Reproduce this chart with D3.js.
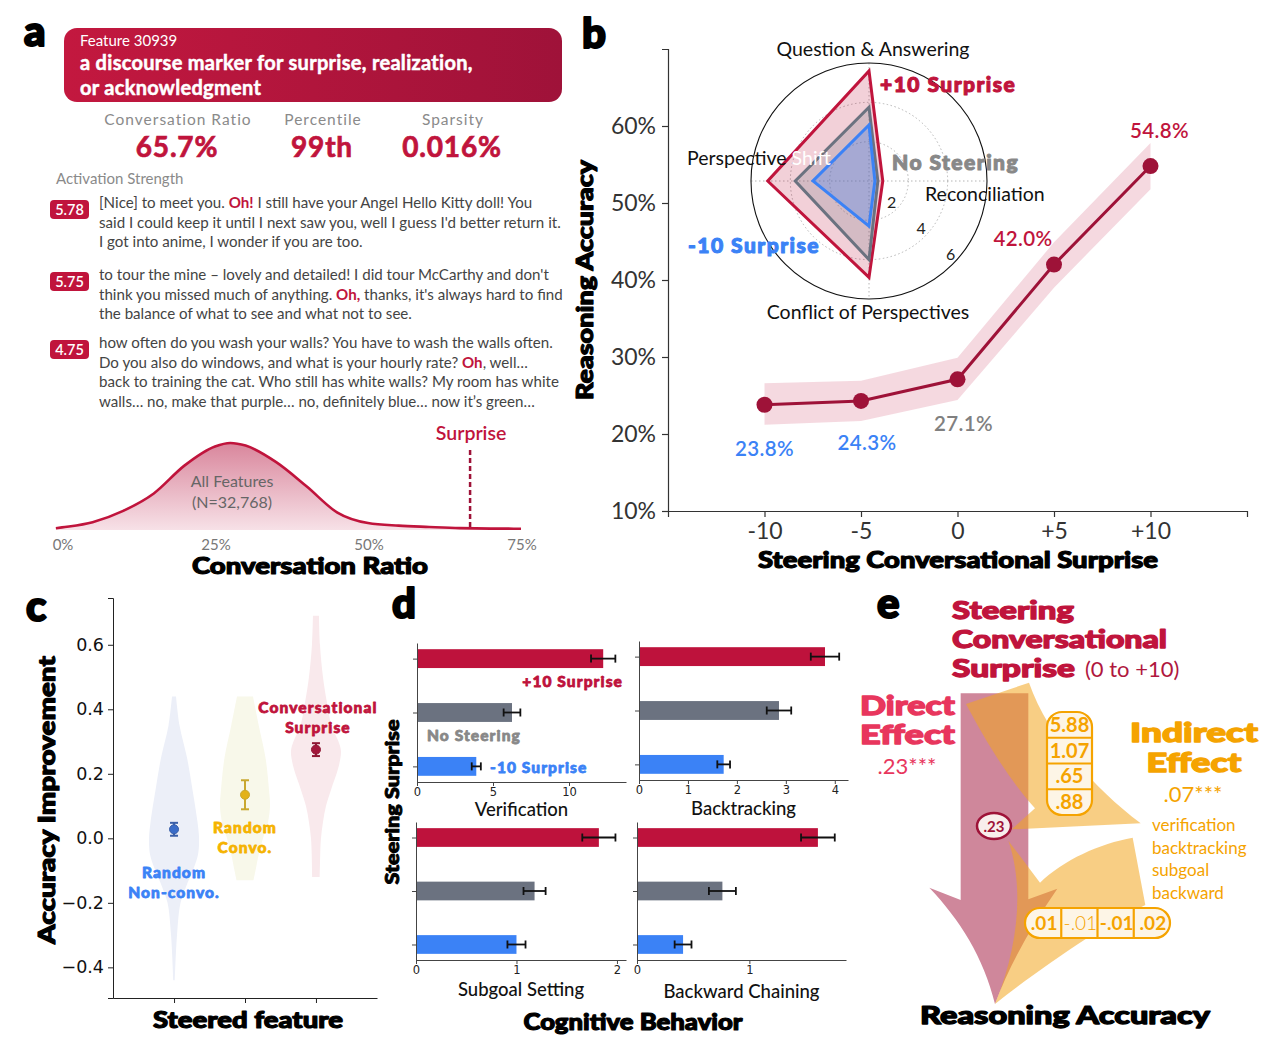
<!DOCTYPE html>
<html>
<head>
<meta charset="utf-8">
<script src="https://cdn.jsdelivr.net/npm/d3@7"></script>
<style>
  body { margin: 0; background: #fff; }
  text { font-family: Lato, "Open Sans", sans-serif; }
  .heavy { font-family: Lato, sans-serif; font-weight: 900; }
  .mpl { font-family: "DejaVu Sans", sans-serif; }
</style>
</head>
<body>
<div id="fig"></div>
<script>
// ---------- panel a data ----------
const featureId = 'Feature 30939';
const featureTitle = ['a discourse marker for surprise, realization,', 'or acknowledgment'];
const statLabels = ['Conversation Ratio', 'Percentile', 'Sparsity'];
const statValues = ['65.7%', '99th', '0.016%'];
const activations = [5.78, 5.75, 4.75];
const snippets = [
  ['[Nice] to meet you. *Oh!* I still have your Angel Hello Kitty doll! You',
   "said I could keep it until I next saw you, well I guess I'd better return it.",
   'I got into anime, I wonder if you are too.'],
  ["to tour the mine – lovely and detailed! I did tour McCarthy and don't",
   "think you missed much of anything. *Oh,* thanks, it's always hard to find",
   'the balance of what to see and what not to see.'],
  ['how often do you wash your walls? You have to wash the walls often.',
   'Do you also do windows, and what is your hourly rate? *Oh*, well…',
   'back to training the cat. Who still has white walls? My room has white',
   'walls… no, make that purple… no, definitely blue… now it’s green…']
];
const ratioPoints  = [-1, 0, 5, 10, 15, 20, 25, 27.5, 30, 35, 40, 45, 50, 55, 60, 65, 70, 75];
const ratioDensity = [0.02, 0.03, 0.09, 0.22, 0.42, 0.74, 0.96, 1.0, 0.97, 0.78, 0.5, 0.2, 0.08, 0.05, 0.035, 0.022, 0.016, 0.015];
const ratioTicks = [0, 25, 50, 75];
const surpriseRatio = 65.7;

// ---------- panel b data ----------
const steerLevels = [-10, -5, 0, 5, 10];
const accuracy = [23.8, 24.3, 27.1, 42.0, 54.8];
const accLow   = [21.2, 21.7, 24.4, 39.0, 51.8];
const accHigh  = [26.6, 26.9, 29.9, 44.9, 57.8];
const accTicks = [10, 20, 30, 40, 50, 60];
const radarAxes = ['Question & Answering', 'Reconciliation', 'Conflict of Perspectives', 'Perspective Shift'];
const radarPlus  = [5.6, 0.7, 4.9, 5.15];
const radarNone  = [3.75, 0.45, 4.0, 3.75];
const radarMinus = [2.85, 0.3, 2.3, 2.85];
const radarTicks = [2, 4, 6];

// ---------- panel c data ----------
const features = ['Random Non-convo.', 'Random Convo.', 'Conversational Surprise'];
const featMean = [0.028, 0.135, 0.275];
const featErr  = [0.02, 0.045, 0.02];
const violinBlueY = [0.44, 0.35, 0.25, 0.15, 0.05, 0, -0.05, -0.1, -0.15, -0.2, -0.3, -0.44];
const violinBlueW = [0.08, 0.22, 0.52, 0.74, 0.94, 1, 0.96, 0.75, 0.48, 0.26, 0.12, 0.03];
const violinYelY  = [0.44, 0.35, 0.25, 0.15, 0.1, 0.05, 0, -0.05, -0.1, -0.13];
const violinYelW  = [0.32, 0.55, 0.82, 0.96, 1, 0.92, 0.72, 0.55, 0.42, 0.34];
const violinRedY  = [0.69, 0.6, 0.5, 0.42, 0.35, 0.3, 0.27, 0.22, 0.15, 0.1, 0.05, 0, -0.05, -0.12];
const violinRedW  = [0.12, 0.16, 0.28, 0.44, 0.62, 0.9, 1, 0.9, 0.6, 0.4, 0.28, 0.2, 0.17, 0.15];
const impTicks = [-0.4, -0.2, 0, 0.2, 0.4, 0.6];

// ---------- panel d data ----------
const behaviors = ['Verification', 'Backtracking', 'Subgoal Setting', 'Backward Chaining'];
const steerGroups = ['+10 Surprise', 'No Steering', '-10 Surprise'];
const behPlus     = [12.25, 3.8, 1.82, 1.61];
const behPlusErr  = [0.8, 0.29, 0.165, 0.15];
const behNone     = [6.25, 2.86, 1.18, 0.76];
const behNoneErr  = [0.55, 0.25, 0.11, 0.12];
const behMinus    = [3.9, 1.73, 1.0, 0.41];
const behMinusErr = [0.3, 0.13, 0.09, 0.075];
const behTicks = [[0, 5, 10], [0, 1, 2, 3, 4], [0, 1, 2], [0, 1]];

// ---------- panel e data ----------
const pathA = ['5.88', '1.07', '.65', '.88'];
const pathB = ['.01', '-.01', '-.01', '.02'];
const directEffect = '.23***';
const indirectEffect = '.07***';
const mediators = ['verification', 'backtracking', 'subgoal', 'backward'];

const crimson = '#c0143c', darkRed = '#9e1238', blue = '#3b82f6', grey = '#6b7280', orange = '#f5a300';

const svg = d3.select('#fig').append('svg').attr('width', 1270).attr('height', 1050);
const defs = svg.append('defs');

// panel letters
[['a', 24, 46], ['b', 582, 48], ['c', 26, 621], ['d', 392, 618], ['e', 877, 618]].forEach(([t, x, y]) => {
  svg.append('text').attr('class', 'heavy').attr('x', x).attr('y', y).attr('font-size', 42).attr('fill', '#000')
    .attr('textLength', 27).text(t);
});

// ================= panel a =================
const gA = svg.append('g');
const boxGrad = defs.append('linearGradient').attr('id', 'boxGrad');
boxGrad.append('stop').attr('offset', '0%').attr('stop-color', '#c3183f');
boxGrad.append('stop').attr('offset', '100%').attr('stop-color', '#9f1239');
gA.append('rect').attr('x', 64).attr('y', 28).attr('width', 498).attr('height', 74).attr('rx', 13).attr('fill', 'url(#boxGrad)');
gA.append('text').attr('x', 80).attr('y', 46).attr('fill', '#fff').attr('font-size', 15).text(featureId);
featureTitle.forEach((t, i) => {
  gA.append('text').attr('x', 80).attr('y', 70 + i * 25).attr('fill', '#fff').attr('font-size', 20).attr('font-weight', 700)
    .attr('stroke', '#fff').attr('stroke-width', 0.5).attr('letter-spacing', 0.3).text(t);
});

const statX = [178, 323, 453];
statLabels.forEach((s, i) => {
  gA.append('text').attr('x', statX[i]).attr('y', 125).attr('text-anchor', 'middle').attr('fill', '#8a8a8a')
    .attr('font-size', 15.5).attr('letter-spacing', 1).text(s);
  gA.append('text').attr('x', statX[i] - 1).attr('y', 157).attr('text-anchor', 'middle').attr('fill', crimson)
    .attr('font-size', 28).attr('font-weight', 700).attr('letter-spacing', 0.8)
    .attr('stroke', crimson).attr('stroke-width', 0.7).text(statValues[i]);
});

gA.append('text').attr('x', 56).attr('y', 184).attr('fill', '#8a8a8a').attr('font-size', 15).text('Activation Strength');

const snippetTop = [209, 281, 349];
snippets.forEach((lines, k) => {
  const y0 = snippetTop[k];
  gA.append('rect').attr('x', 50).attr('y', y0 - 9).attr('width', 39).attr('height', 19).attr('rx', 4).attr('fill', crimson);
  gA.append('text').attr('x', 69.5).attr('y', y0 + 5.5).attr('text-anchor', 'middle').attr('fill', '#fff')
    .attr('font-size', 14.5).attr('font-weight', 600).text(activations[k].toFixed(2));
  lines.forEach((line, j) => {
    const t = gA.append('text').attr('x', 99).attr('y', y0 - 1 + j * 19.6).attr('font-size', 15.1).attr('fill', '#444');
    line.split('*').forEach((part, p) => {
      if (!part) return;
      t.append('tspan').attr('fill', p % 2 ? crimson : '#444').attr('font-weight', p % 2 ? 700 : 400).text(part);
    });
  });
});

// density curve
const xR = d3.scaleLinear().domain([0, 75]).range([62, 521]);
const yR = d3.scaleLinear().domain([0, 1]).range([530, 443]);
const denGrad = defs.append('linearGradient').attr('id', 'denGrad').attr('x1', 0).attr('x2', 0).attr('y1', 0).attr('y2', 1);
denGrad.append('stop').attr('offset', '0%').attr('stop-color', '#d9869c');
denGrad.append('stop').attr('offset', '100%').attr('stop-color', '#f7e1e7');
const den = ratioPoints.map((r, i) => [r, ratioDensity[i]]);
gA.append('path').datum(den)
  .attr('d', d3.area().x(d => xR(d[0])).y0(yR(0)).y1(d => yR(d[1])).curve(d3.curveMonotoneX))
  .attr('fill', 'url(#denGrad)');
gA.append('path').datum(den)
  .attr('d', d3.line().x(d => xR(d[0])).y(d => yR(d[1])).curve(d3.curveMonotoneX))
  .attr('fill', 'none').attr('stroke', crimson).attr('stroke-width', 2.6);
gA.append('line').attr('x1', xR(surpriseRatio) + 6).attr('x2', xR(surpriseRatio) + 6).attr('y1', 450).attr('y2', yR(0.02))
  .attr('stroke', darkRed).attr('stroke-width', 2.5).attr('stroke-dasharray', '5,3');
gA.append('text').attr('x', xR(surpriseRatio) + 7).attr('y', 440).attr('text-anchor', 'middle').attr('fill', crimson)
  .attr('font-size', 19.5).attr('font-weight', 600).text('Surprise');
gA.append('text').attr('x', 232).attr('y', 487).attr('text-anchor', 'middle').attr('fill', '#666').attr('font-size', 16).text('All Features');
gA.append('text').attr('x', 232).attr('y', 508).attr('text-anchor', 'middle').attr('fill', '#666').attr('font-size', 16).text('(N=32,768)');
ratioTicks.forEach(t => {
  gA.append('text').attr('x', xR(t) + 1).attr('y', 550).attr('text-anchor', 'middle').attr('fill', '#777').attr('font-size', 15).text(t + '%');
});
gA.append('text').attr('class', 'heavy').attr('x', 310).attr('y', 574).attr('text-anchor', 'middle').attr('font-size', 22.5)
  .attr('fill', '#000').attr('textLength', 236).attr('lengthAdjust', 'spacingAndGlyphs').text('Conversation Ratio');

// ================= panel b =================
const gB = svg.append('g');
const xS = d3.scaleLinear().domain([-15, 15]).range([668, 1247]);
const yS = d3.scaleLinear().domain([10, 70]).range([511, 49]);
gB.append('g').attr('transform', 'translate(0,511)')
  .call(d3.axisBottom(xS).tickValues(steerLevels).tickFormat(d => d > 0 ? '+' + d : String(d)).tickSize(6).tickPadding(6))
  .call(g => g.selectAll('text').attr('font-size', 23).attr('fill', '#333').attr('font-family', 'Lato'))
  .call(g => g.selectAll('line,path').attr('stroke', '#333').attr('stroke-width', 1.2));
gB.append('g').attr('transform', 'translate(668,0)')
  .call(d3.axisLeft(yS).tickValues(accTicks).tickFormat(d => d + '%').tickSize(6).tickPadding(6))
  .call(g => g.selectAll('text').attr('font-size', 23).attr('fill', '#333').attr('font-family', 'Lato'))
  .call(g => g.selectAll('line,path').attr('stroke', '#333').attr('stroke-width', 1.2));
gB.append('text').attr('class', 'heavy').attr('x', 958).attr('y', 568).attr('text-anchor', 'middle').attr('font-size', 22)
  .attr('fill', '#000').attr('textLength', 400).attr('lengthAdjust', 'spacingAndGlyphs').text('Steering Conversational Surprise');
gB.append('text').attr('class', 'heavy').attr('transform', 'translate(593,280) rotate(-90)').attr('text-anchor', 'middle')
  .attr('fill', '#000').attr('font-size', 22).attr('textLength', 240).attr('lengthAdjust', 'spacingAndGlyphs').text('Reasoning Accuracy');

const acc = steerLevels.map((s, i) => ({ s, v: accuracy[i], lo: accLow[i], hi: accHigh[i] }));
gB.append('path').datum(acc)
  .attr('d', d3.area().x(d => xS(d.s)).y0(d => yS(d.lo)).y1(d => yS(d.hi)))
  .attr('fill', crimson).attr('fill-opacity', 0.16);
gB.append('path').datum(acc)
  .attr('d', d3.line().x(d => xS(d.s)).y(d => yS(d.v)))
  .attr('fill', 'none').attr('stroke', darkRed).attr('stroke-width', 3);
gB.selectAll('circle.acc').data(acc).enter().append('circle')
  .attr('cx', d => xS(d.s)).attr('cy', d => yS(d.v)).attr('r', 8).attr('fill', darkRed);
const accLabelColor = [blue, blue, '#808080', crimson, crimson];
const accLabelOff = [[0, 51], [6, 49], [6, 52], [-31, -19], [9, -28]];
acc.forEach((d, i) => {
  gB.append('text').attr('x', xS(d.s) + accLabelOff[i][0]).attr('y', yS(d.v) + accLabelOff[i][1])
    .attr('text-anchor', 'middle').attr('fill', accLabelColor[i]).attr('font-size', 20.5).attr('font-weight', 600)
    .attr('letter-spacing', 0.4).text(d.v.toFixed(1) + '%');
});

// radar inset
const rc = { x: 869, y: 181 };
const rS = d3.scaleLinear().domain([0, 6]).range([0, 118]);
const gR = gB.append('g').attr('transform', `translate(${rc.x},${rc.y})`);
radarTicks.slice(0, 2).forEach(t => {
  gR.append('circle').attr('r', rS(t)).attr('fill', 'none').attr('stroke', '#b5b5b5').attr('stroke-width', 1).attr('stroke-dasharray', '1.5,2.5');
});
[0, Math.PI / 2].forEach(a => {
  gR.append('line').attr('x1', -rS(6) * Math.sin(a)).attr('x2', rS(6) * Math.sin(a))
    .attr('y1', -rS(6) * Math.cos(a)).attr('y2', rS(6) * Math.cos(a))
    .attr('stroke', '#b5b5b5').attr('stroke-width', 1).attr('stroke-dasharray', '1.5,2.5');
});
gR.append('circle').attr('r', rS(6)).attr('fill', 'none').attr('stroke', '#111').attr('stroke-width', 1.1);
const angles = radarAxes.map((_, i) => i * Math.PI / 2);
const radial = d3.lineRadial().angle((d, i) => angles[i]).radius(d => rS(d)).curve(d3.curveLinearClosed);
[[radarPlus, crimson, 0.2], [radarNone, grey, 0.22], [radarMinus, blue, 0.3]].forEach(([vals, c, op]) => {
  gR.append('path').attr('d', radial(vals)).attr('fill', c).attr('fill-opacity', op)
    .attr('stroke', c).attr('stroke-width', 3).attr('stroke-linejoin', 'miter');
});
radarTicks.forEach(t => {
  const a = 0.72;
  gR.append('text').attr('x', rS(t) * Math.cos(a) - 7).attr('y', rS(t) * Math.sin(a) + 1)
    .attr('text-anchor', 'middle').attr('font-size', 16).attr('fill', '#222').text(t);
});
const axisLabelPos = [[4, -125, 'middle'], [56, 20, 'start'], [-1, 138, 'middle'], [-182, -16, 'start']];
radarAxes.forEach((lab, i) => {
  const t = gR.append('text').attr('x', axisLabelPos[i][0]).attr('y', axisLabelPos[i][1])
    .attr('text-anchor', axisLabelPos[i][2]).attr('font-size', 19.5).attr('fill', '#111');
  if (lab === 'Perspective Shift') {
    t.append('tspan').text('Perspective ');
    t.append('tspan').attr('fill', '#fff').text('Shift');
  } else t.text(lab);
});
gR.append('text').attr('class', 'heavy').attr('x', 11).attr('y', -89).attr('fill', crimson).attr('font-size', 21).text('+10 Surprise');
gR.append('text').attr('class', 'heavy').attr('x', 23).attr('y', -11).attr('fill', '#888').attr('font-size', 21).text('No Steering');
gR.append('text').attr('class', 'heavy').attr('x', -181).attr('y', 72).attr('fill', blue).attr('font-size', 21).text('-10 Surprise');

// ================= panel c =================
const gC = svg.append('g');
const xF = d3.scalePoint().domain(features).range([113, 377]).padding(0.86);
const yI = d3.scaleLinear().domain([-0.495, 0.745]).range([998, 598]);
const wI = d3.scaleLinear().domain([0, 1]).range([0, 25]);
const violins = [[violinBlueY, violinBlueW, '#eceff8'], [violinYelY, violinYelW, '#f8f8ea'], [violinRedY, violinRedW, '#f9e9ec']];
violins.forEach(([ys, ws, col], i) => {
  const cx = xF(features[i]);
  const pts = ys.map((y, k) => [y, ws[k]]);
  gC.append('path').datum(pts)
    .attr('d', d3.area().y(d => yI(d[0])).x0(d => cx - wI(d[1])).x1(d => cx + wI(d[1])).curve(d3.curveCatmullRom))
    .attr('fill', col);
});
gC.append('g').attr('transform', 'translate(113,0)')
  .call(d3.axisLeft(yI).tickValues(impTicks).tickFormat(d3.format('.1f')).tickSize(5).tickPadding(4))
  .call(g => g.selectAll('text').attr('font-size', 17.5).attr('fill', '#111').attr('class', 'mpl'))
  .call(g => g.selectAll('line,path').attr('stroke', '#222').attr('stroke-width', 1));
gC.append('g').attr('transform', 'translate(0,998)')
  .call(d3.axisBottom(xF).tickFormat('').tickSize(5).tickSizeOuter(0))
  .call(g => g.selectAll('line,path').attr('stroke', '#222').attr('stroke-width', 1));
const featColor = ['#3a6cc8', '#e3b21a', '#a3173b'];
const featBar = ['#3a5fa8', '#c9a830', '#8f1734'];
features.forEach((f, i) => {
  const cx = xF(f);
  const g = gC.append('g').attr('stroke', featBar[i]).attr('stroke-width', 2);
  g.append('line').attr('x1', cx).attr('x2', cx).attr('y1', yI(featMean[i] - featErr[i])).attr('y2', yI(featMean[i] + featErr[i]));
  [-1, 1].forEach(s => g.append('line').attr('x1', cx - 4).attr('x2', cx + 4)
    .attr('y1', yI(featMean[i] + s * featErr[i])).attr('y2', yI(featMean[i] + s * featErr[i])));
  gC.append('circle').attr('cx', cx).attr('cy', yI(featMean[i])).attr('r', 4.5).attr('fill', featColor[i]).attr('stroke', featBar[i]).attr('stroke-width', 1);
});
const featLab = [[['Random', 'Non-convo.'], blue, 878], [['Random', 'Convo.'], '#f5b301', 833], [['Conversational', 'Surprise'], crimson, 713]];
featLab.forEach(([lines, col, y], i) => {
  lines.forEach((l, j) => gC.append('text').attr('class', 'heavy').attr('x', xF(features[i]) + (i === 2 ? 2 : 0)).attr('y', y + j * 19.5)
    .attr('text-anchor', 'middle').attr('fill', col).attr('font-size', 15.5).text(l));
});
gC.append('text').attr('class', 'heavy').attr('transform', 'translate(55,800) rotate(-90)').attr('text-anchor', 'middle')
  .attr('fill', '#000').attr('font-size', 23).attr('textLength', 288).attr('lengthAdjust', 'spacingAndGlyphs').text('Accuracy Improvement');
gC.append('text').attr('class', 'heavy').attr('x', 248).attr('y', 1028).attr('text-anchor', 'middle').attr('font-size', 22)
  .attr('fill', '#000').attr('textLength', 190).attr('lengthAdjust', 'spacingAndGlyphs').text('Steered feature');

// ================= panel d =================
const gD = svg.append('g');
const subLayout = [
  { l: 417, r: 626, t: 643, b: 782, max: 13.75, titleY: 816 },
  { l: 639, r: 848, t: 641, b: 780, max: 4.27, titleY: 815 },
  { l: 416, r: 626, t: 822, b: 960, max: 2.09, titleY: 996 },
  { l: 637, r: 846, t: 822, b: 960, max: 1.86, titleY: 998 }
];
const barVals = [behPlus, behNone, behMinus], barErrs = [behPlusErr, behNoneErr, behMinusErr];
const barCols = ['#be123c', grey, blue];
behaviors.forEach((beh, k) => {
  const L = subLayout[k];
  const x = d3.scaleLinear().domain([0, L.max]).range([L.l, L.r]);
  const y = d3.scalePoint().domain(steerGroups).range([L.t, L.b]).padding(0.29);
  const bh = y.step() * 0.35;
  const g = gD.append('g');
  steerGroups.forEach((sg, j) => {
    const v = barVals[j][k], e = barErrs[j][k], cy = y(sg);
    g.append('rect').attr('x', x(0)).attr('y', cy - bh / 2).attr('width', x(v) - x(0)).attr('height', bh).attr('fill', barCols[j]);
    const eb = g.append('g').attr('stroke', '#111').attr('stroke-width', 1.8);
    eb.append('line').attr('x1', x(v - e)).attr('x2', x(v + e)).attr('y1', cy).attr('y2', cy);
    [-1, 1].forEach(s => eb.append('line').attr('x1', x(v + s * e)).attr('x2', x(v + s * e)).attr('y1', cy - 4).attr('y2', cy + 4));
  });
  g.append('g').attr('transform', `translate(0,${L.b})`)
    .call(d3.axisBottom(x).tickValues(behTicks[k]).tickFormat(d3.format('d')).tickSize(4).tickSizeOuter(0).tickPadding(2))
    .call(s => s.selectAll('text').attr('font-size', 11.5).attr('fill', '#222').attr('class', 'mpl'))
    .call(s => s.selectAll('line,path').attr('stroke', '#444'));
  g.append('g').attr('transform', `translate(${L.l},0)`)
    .call(d3.axisLeft(y).tickFormat('').tickSize(4).tickSizeOuter(0))
    .call(s => s.selectAll('line,path').attr('stroke', '#444'));
  g.append('text').attr('x', (L.l + L.r) / 2).attr('y', L.titleY).attr('text-anchor', 'middle')
    .attr('font-size', 18.5).attr('fill', '#111').attr('font-weight', 500).text(beh);
});
gD.append('text').attr('class', 'heavy').attr('x', 623).attr('y', 687).attr('text-anchor', 'end').attr('fill', '#be123c').attr('font-size', 15.5).text('+10 Surprise');
gD.append('text').attr('class', 'heavy').attr('x', 427).attr('y', 741).attr('fill', '#888').attr('font-size', 15.5).text('No Steering');
gD.append('text').attr('class', 'heavy').attr('x', 490).attr('y', 773).attr('fill', blue).attr('font-size', 15.5).text('-10 Surprise');
gD.append('text').attr('class', 'heavy').attr('transform', 'translate(399,802) rotate(-90)').attr('text-anchor', 'middle')
  .attr('fill', '#000').attr('font-size', 18).attr('textLength', 165).attr('lengthAdjust', 'spacingAndGlyphs').text('Steering Surprise');
gD.append('text').attr('class', 'heavy').attr('x', 633).attr('y', 1030).attr('text-anchor', 'middle').attr('font-size', 22)
  .attr('fill', '#000').attr('textLength', 219).attr('lengthAdjust', 'spacingAndGlyphs').text('Cognitive Behavior');

// ================= panel e =================
const gE = svg.append('g').attr('transform', 'translate(860,590)');
const s3 = v => v / 3;
const pathFrom = (cmds) => {
  const p = d3.path();
  cmds.forEach(c => {
    const a = c.slice(1).map(s3);
    if (c[0] === 'M') p.moveTo(a[0], a[1]);
    else if (c[0] === 'L') p.lineTo(a[0], a[1]);
    else if (c[0] === 'C') p.bezierCurveTo(a[0], a[1], a[2], a[3], a[4], a[5]);
  });
  p.closePath();
  return p.toString();
};
// direct-effect arrow
gE.append('path').attr('fill', '#cf879b').attr('d', pathFrom([
  ['M', 302, 310], ['L', 505, 310], ['L', 505, 928], ['L', 592, 896],
  ['C', 520, 1000, 450, 1120, 405, 1242], ['C', 370, 1100, 300, 990, 208, 893], ['L', 302, 930]
]));
// indirect arrows
gE.append('path').attr('fill', '#f2a51f').attr('fill-opacity', 0.55).attr('d', pathFrom([
  ['M', 318, 342], ['L', 507, 278], ['C', 560, 430, 690, 585, 842, 700], ['L', 455, 718], ['L', 525, 655],
  ['C', 440, 560, 370, 440, 318, 342]
]));
gE.append('path').attr('fill', '#f2a51f').attr('fill-opacity', 0.55).attr('d', pathFrom([
  ['M', 818, 743], ['C', 720, 760, 610, 810, 540, 878], ['L', 445, 752],
  ['C', 490, 880, 480, 1060, 405, 1242], ['C', 560, 1120, 740, 1000, 856, 945]
]));
// path-a coefficient stack
const bandA = d3.scaleBand().domain(d3.range(pathA.length)).range([122, 225]);
gE.append('rect').attr('x', 187).attr('y', 122).attr('width', 45).attr('height', 103).attr('rx', 15)
  .attr('fill', '#fdf5e6').attr('stroke', orange).attr('stroke-width', 2.2);
pathA.forEach((v, i) => {
  if (i > 0) gE.append('line').attr('x1', 187).attr('x2', 232).attr('y1', bandA(i)).attr('y2', bandA(i)).attr('stroke', orange).attr('stroke-width', 2.2);
  gE.append('text').attr('x', 209.5).attr('y', bandA(i) + bandA.bandwidth() / 2 + 7).attr('text-anchor', 'middle')
    .attr('fill', orange).attr('font-size', 20).attr('font-weight', 700).text(v);
});
const bandB = d3.scaleBand().domain(d3.range(pathB.length)).range([165, 310]);
gE.append('rect').attr('x', 165).attr('y', 318).attr('width', 145).attr('height', 30).attr('rx', 15)
  .attr('fill', '#fdf5e6').attr('stroke', orange).attr('stroke-width', 2.2);
pathB.forEach((v, i) => {
  if (i > 0) gE.append('line').attr('x1', bandB(i)).attr('x2', bandB(i)).attr('y1', 318).attr('y2', 348).attr('stroke', orange).attr('stroke-width', 2.2);
  gE.append('text').attr('x', bandB(i) + bandB.bandwidth() / 2 + 1).attr('y', 340).attr('text-anchor', 'middle')
    .attr('fill', orange).attr('font-size', 19).attr('font-weight', i === 1 ? 300 : 700).text(v);
});
gE.append('ellipse').attr('cx', 134).attr('cy', 236).attr('rx', 17).attr('ry', 13)
  .attr('fill', '#f8eeec').attr('stroke', darkRed).attr('stroke-width', 2.5);
gE.append('text').attr('x', 134).attr('y', 241.5).attr('text-anchor', 'middle').attr('fill', darkRed)
  .attr('font-size', 15).attr('font-weight', 700).text(directEffect.replace(/\*/g, ''));

const eTitle = ['Steering', 'Conversational', 'Surprise'];
const eTitleW = [122, 215, 123];
eTitle.forEach((t, i) => {
  gE.append('text').attr('class', 'heavy').attr('x', 92).attr('y', 29 + i * 29).attr('fill', '#c0143c').attr('font-size', 25)
    .attr('textLength', eTitleW[i]).attr('lengthAdjust', 'spacingAndGlyphs').text(t);
});
gE.append('text').attr('x', 225).attr('y', 87).attr('fill', '#b0173e').attr('font-size', 22).text('(0 to +10)');
['Direct', 'Effect'].forEach((t, i) => {
  gE.append('text').attr('class', 'heavy').attr('x', 0).attr('y', 125 + i * 29).attr('fill', '#e8365d').attr('font-size', 26)
    .attr('textLength', 95).attr('lengthAdjust', 'spacingAndGlyphs').text(t);
});
gE.append('text').attr('x', 47).attr('y', 184).attr('text-anchor', 'middle').attr('fill', '#e8365d').attr('font-size', 22).text(directEffect);
['Indirect', 'Effect'].forEach((t, i) => {
  gE.append('text').attr('class', 'heavy').attr('x', 334).attr('y', 152 + i * 30).attr('text-anchor', 'middle').attr('fill', orange)
    .attr('font-size', 26).attr('textLength', i ? 95 : 128).attr('lengthAdjust', 'spacingAndGlyphs').text(t);
});
gE.append('text').attr('x', 333).attr('y', 212).attr('text-anchor', 'middle').attr('fill', orange).attr('font-size', 22).text(indirectEffect);
mediators.forEach((m, i) => {
  gE.append('text').attr('x', 292).attr('y', 241 + i * 22.7).attr('fill', orange).attr('font-size', 17).text(m);
});
gE.append('text').attr('class', 'heavy').attr('x', 205).attr('y', 434).attr('text-anchor', 'middle').attr('font-size', 25)
  .attr('fill', '#000').attr('textLength', 290).attr('lengthAdjust', 'spacingAndGlyphs').text('Reasoning Accuracy');

// thicken the heavy display type (outline in its own colour); open up short labels a little
svg.selectAll('text.heavy').each(function () {
  const t = d3.select(this);
  const fs = +t.attr('font-size');
  t.attr('stroke', t.attr('fill') || '#000').attr('stroke-width', Math.max(0.6, fs * 0.05)).attr('stroke-linejoin', 'round');
  if (!t.attr('textLength')) t.attr('letter-spacing', (fs * 0.07).toFixed(2));
});
</script>
</body>
</html>
